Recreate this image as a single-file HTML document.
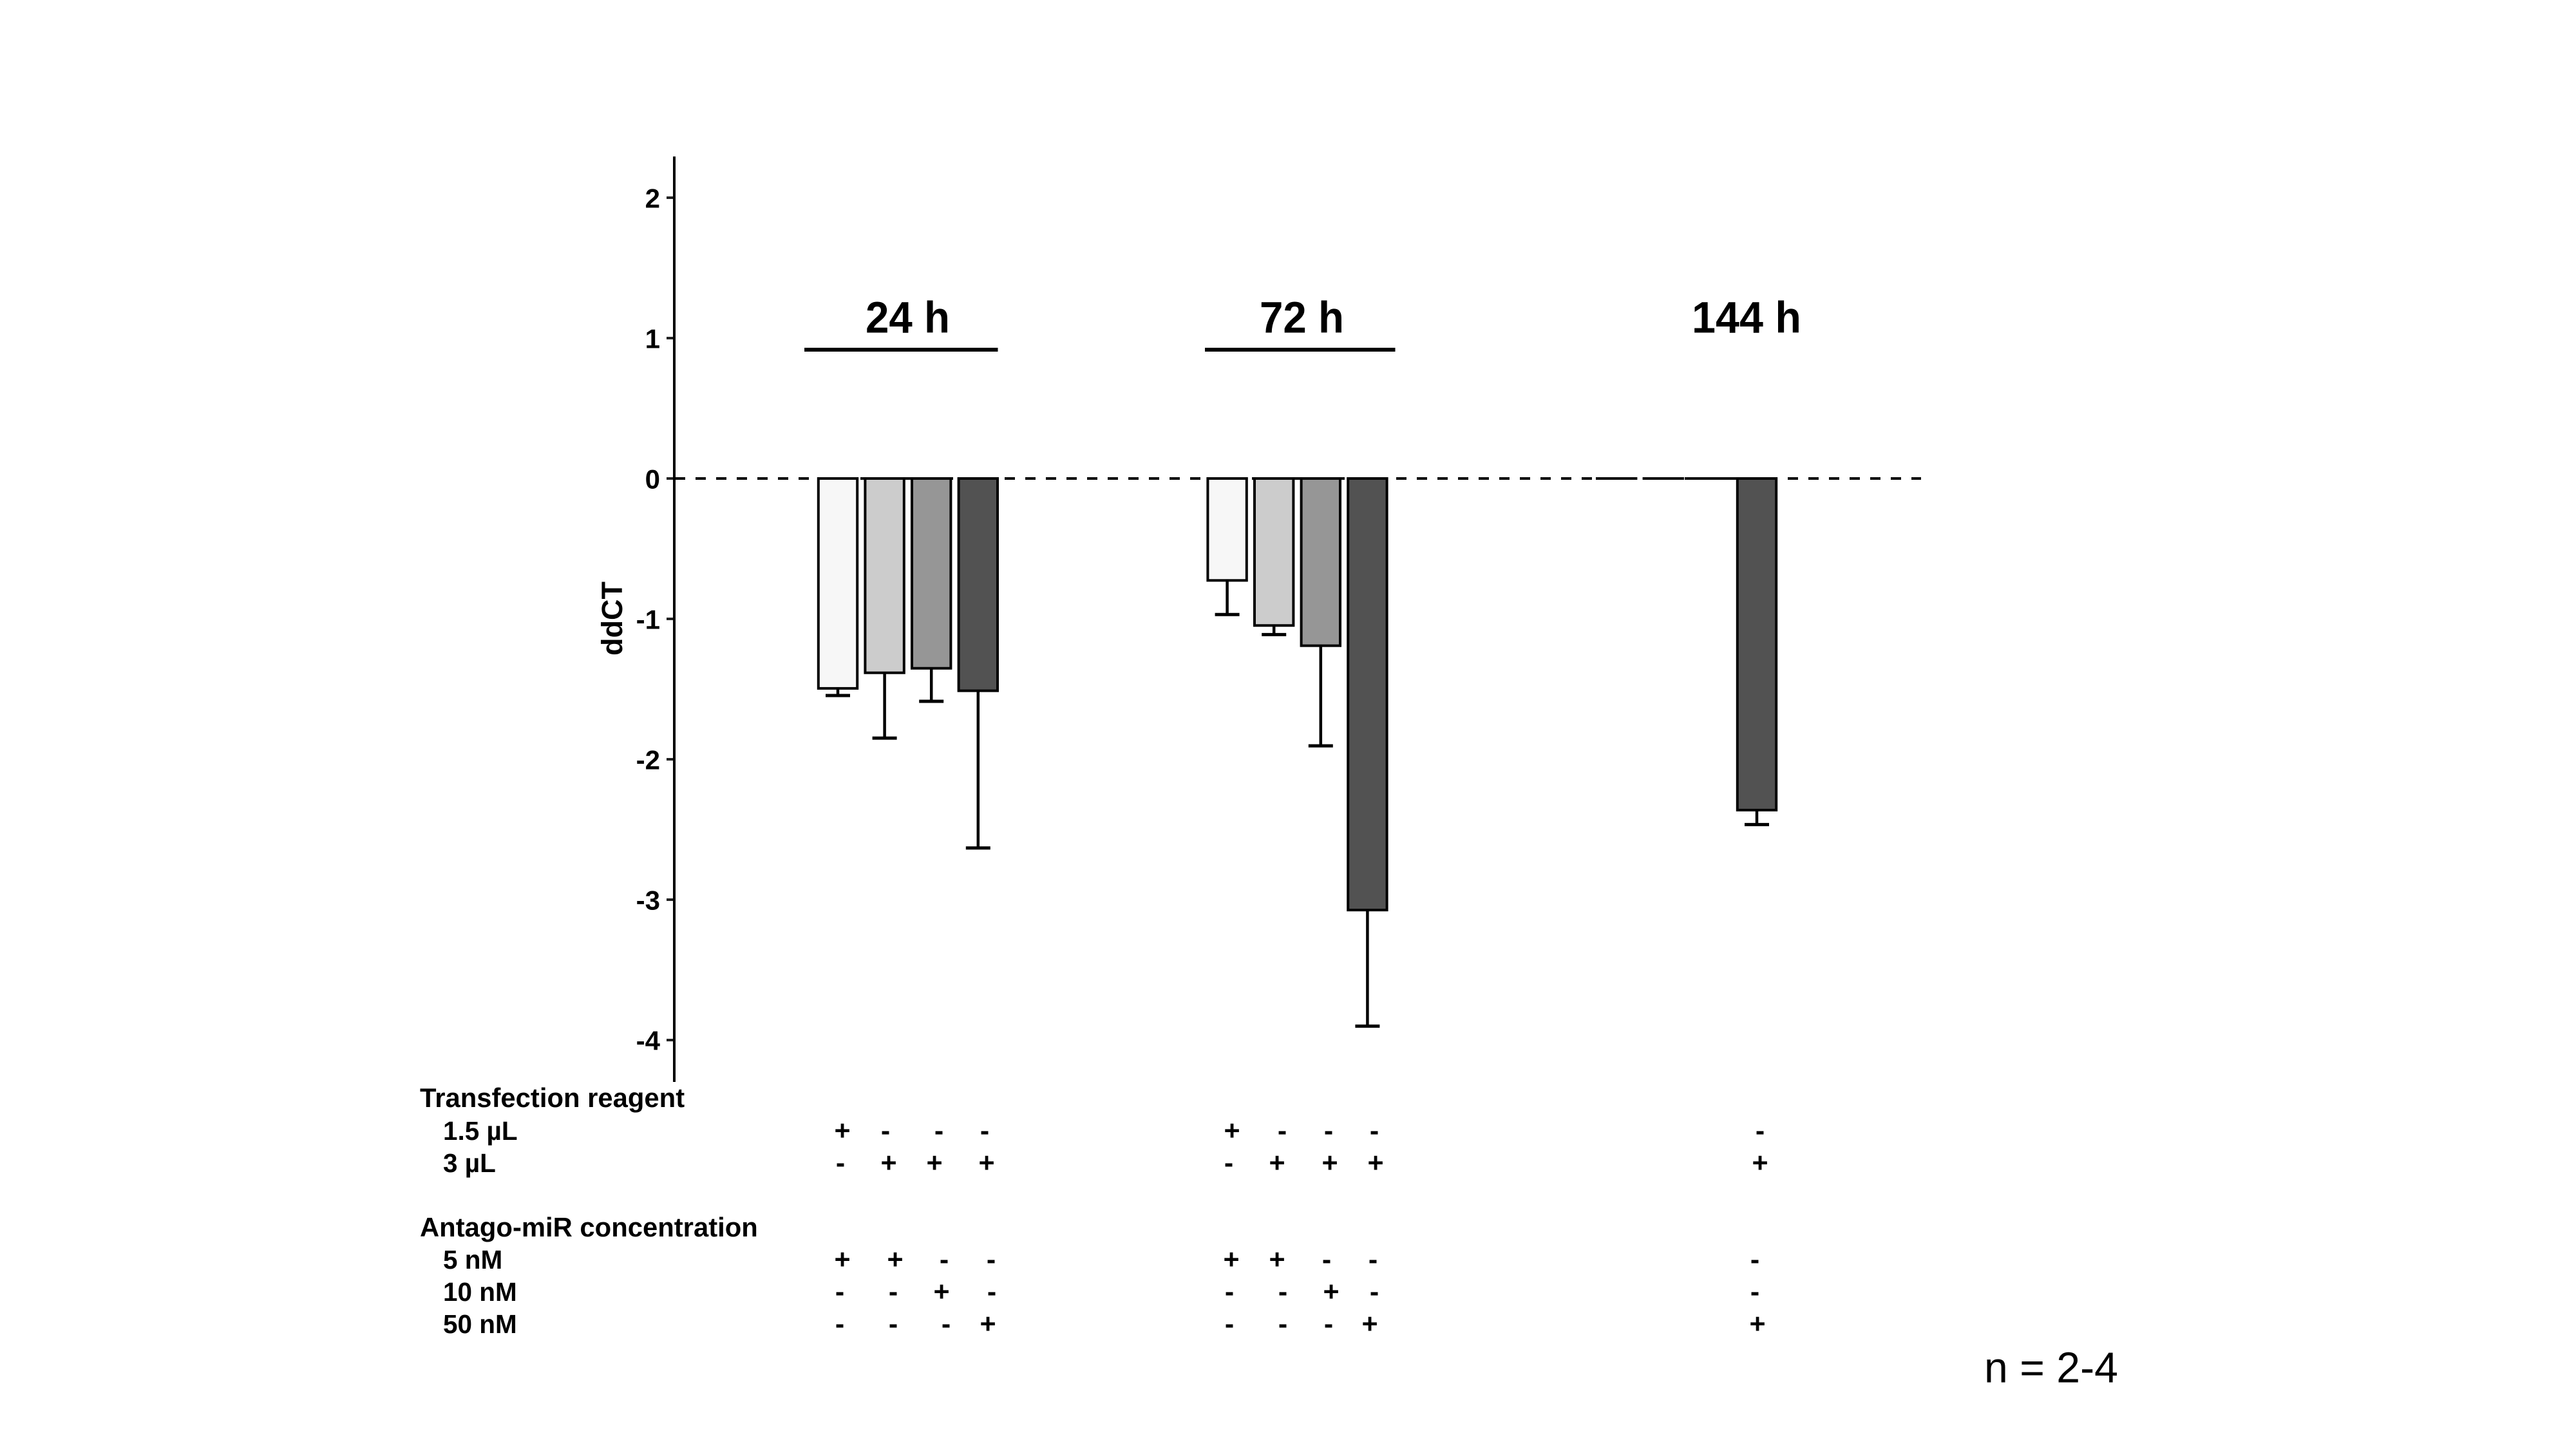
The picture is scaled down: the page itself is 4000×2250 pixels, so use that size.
<!DOCTYPE html>
<html lang="en">
<head>
<meta charset="utf-8">
<title>ddCT bar chart</title>
<style>
html,body{margin:0;padding:0;background:#fff;}
svg{display:block;}
text{font-family:"Liberation Sans",sans-serif;fill:#000;}
.b{font-weight:bold;}
.row{font-weight:bold;font-size:40.5px;}
.head{font-weight:bold;font-size:41.8px;}
.m{font-weight:bold;font-size:43px;text-anchor:middle;}
</style>
</head>
<body>
<svg id="chart" xmlns="http://www.w3.org/2000/svg" width="4000" height="2250" viewBox="0 0 4000 2250">
  <rect x="0" y="0" width="4000" height="2250" fill="#ffffff"/>
  <line id="zero" x1="1048" x2="2983" y1="743" y2="743" stroke="#000" stroke-width="4" stroke-dasharray="16 16"/>
  <g id="ticks"></g>
  <line x1="1047" x2="1047" y1="243" y2="1680" stroke="#000" stroke-width="4"/>
  <text class="b" font-size="45" text-anchor="middle" transform="translate(966 960.5) rotate(-90)">ddCT</text>
  <g id="bars"></g>

  <text class="b" font-size="69" x="1344" y="516.5" textLength="131" lengthAdjust="spacingAndGlyphs">24 h</text>
  <text class="b" font-size="69" x="1956" y="516.5" textLength="131" lengthAdjust="spacingAndGlyphs">72 h</text>
  <text class="b" font-size="69" x="2627" y="516.5" textLength="170" lengthAdjust="spacingAndGlyphs">144 h</text>
  <rect x="1249" y="540" width="300.5" height="6" fill="#000"/>
  <rect x="1871" y="540" width="295.5" height="6" fill="#000"/>

  <g>
    <text class="head" x="652" y="1719">Transfection reagent</text>
    <text class="row" x="688" y="1770">1.5 µL</text>
    <text class="row" x="688" y="1820">3 µL</text>
    <text class="head" x="652" y="1920">Antago-miR concentration</text>
    <text class="row" x="688" y="1970">5 nM</text>
    <text class="row" x="688" y="2020">10 nM</text>
    <text class="row" x="688" y="2070">50 nM</text>
  </g>

  <g>
    <text class="m" x="1308" y="1770">+</text>
    <text class="m" x="1375" y="1770">-</text>
    <text class="m" x="1458" y="1770">-</text>
    <text class="m" x="1529" y="1770">-</text>
    <text class="m" x="1913" y="1770">+</text>
    <text class="m" x="1991" y="1770">-</text>
    <text class="m" x="2063" y="1770">-</text>
    <text class="m" x="2134" y="1770">-</text>
    <text class="m" x="2733" y="1770">-</text>
  </g>
  <g>
    <text class="m" x="1305" y="1820">-</text>
    <text class="m" x="1380" y="1820">+</text>
    <text class="m" x="1451" y="1820">+</text>
    <text class="m" x="1532" y="1820">+</text>
    <text class="m" x="1908" y="1820">-</text>
    <text class="m" x="1983" y="1820">+</text>
    <text class="m" x="2065" y="1820">+</text>
    <text class="m" x="2136" y="1820">+</text>
    <text class="m" x="2733" y="1820">+</text>
  </g>
  <g>
    <text class="m" x="1308" y="1970">+</text>
    <text class="m" x="1390" y="1970">+</text>
    <text class="m" x="1466" y="1970">-</text>
    <text class="m" x="1539" y="1970">-</text>
    <text class="m" x="1912" y="1970">+</text>
    <text class="m" x="1983" y="1970">+</text>
    <text class="m" x="2060" y="1970">-</text>
    <text class="m" x="2132" y="1970">-</text>
    <text class="m" x="2725" y="1970">-</text>
  </g>
  <g>
    <text class="m" x="1304" y="2020">-</text>
    <text class="m" x="1387" y="2020">-</text>
    <text class="m" x="1462" y="2020">+</text>
    <text class="m" x="1540" y="2020">-</text>
    <text class="m" x="1909" y="2020">-</text>
    <text class="m" x="1992" y="2020">-</text>
    <text class="m" x="2067" y="2020">+</text>
    <text class="m" x="2134" y="2020">-</text>
    <text class="m" x="2725" y="2020">-</text>
  </g>
  <g>
    <text class="m" x="1304" y="2070">-</text>
    <text class="m" x="1387" y="2070">-</text>
    <text class="m" x="1469" y="2070">-</text>
    <text class="m" x="1534" y="2070">+</text>
    <text class="m" x="1909" y="2070">-</text>
    <text class="m" x="1992" y="2070">-</text>
    <text class="m" x="2063" y="2070">-</text>
    <text class="m" x="2127" y="2070">+</text>
    <text class="m" x="2729" y="2070">+</text>
  </g>

  <text font-size="67" x="3081" y="2146.7" textLength="208" lengthAdjust="spacingAndGlyphs">n = 2-4</text>
</svg>
<script>
const tickValues = [2, 1, 0, -1, -2, -3, -4];
const tickLabels = ['2', '1', '0', '-1', '-2', '-3', '-4'];
const timepoints = ['24h', '72h', '144h'];
const conditionNames = ['reagent-1-5-5nm', 'reagent-3-5nm', 'reagent-3-10nm', 'reagent-3-50nm'];
const barFills = ['#f7f7f7', '#cccccc', '#969696', '#525252'];
const means24h = [-1.495, -1.384, -1.352, -1.512];
const errorEnds24h = [-1.546, -1.849, -1.587, -2.632];
const means72h = [-0.726, -1.047, -1.191, -3.074];
const errorEnds72h = [-0.969, -1.112, -1.904, -3.901];
const means144h = [0, 0, 0, -2.362];
const errorEnds144h = [null, null, null, -2.465];

const SVG_NS = 'http://www.w3.org/2000/svg';
function yScale(v) { return 743 - 218 * v; }
function xScale(g, i) { return 1301 + 604.6 * g + 72.6 * i; }
function make(tag, parent) {
  const el = document.createElementNS(SVG_NS, tag);
  parent.appendChild(el);
  return el;
}

const ticksGroup = document.getElementById('ticks');
tickValues.forEach(function (v, k) {
  const tick = make('rect', ticksGroup);
  
  
  tick.setAttribute('x', 1035);
  tick.setAttribute('y', yScale(v) - 2);
  tick.setAttribute('width', 12);
  tick.setAttribute('height', 4);
  tick.setAttribute('fill', '#222');
  const label = make('text', ticksGroup);
  
  
  label.setAttribute('class', 'b');
  label.setAttribute('font-size', '42');
  label.setAttribute('text-anchor', 'end');
  label.setAttribute('x', 1025);
  label.setAttribute('y', yScale(v) + 15.6);
  label.textContent = tickLabels[k];
});

const barsGroup = document.getElementById('bars');
const meansByGroup = [means24h, means72h, means144h];
const errorsByGroup = [errorEnds24h, errorEnds72h, errorEnds144h];
meansByGroup.forEach(function (means, g) {
  means.forEach(function (value, i) {
    const cx = xScale(g, i);
    const end = errorsByGroup[g][i];
    if (end !== null) {
      const stem = make('line', barsGroup);
      
      
      stem.setAttribute('x1', cx);
      stem.setAttribute('x2', cx);
      stem.setAttribute('y1', yScale(value));
      stem.setAttribute('y2', yScale(end));
      stem.setAttribute('stroke', '#000');
      stem.setAttribute('stroke-width', '4.5');
      const cap = make('line', barsGroup);
      
      
      cap.setAttribute('x1', cx - 19);
      cap.setAttribute('x2', cx + 19);
      cap.setAttribute('y1', yScale(end));
      cap.setAttribute('y2', yScale(end));
      cap.setAttribute('stroke', '#000');
      cap.setAttribute('stroke-width', '5');
    }
    const bar = make('rect', barsGroup);
    
    
    bar.setAttribute('x', cx - 30.2);
    bar.setAttribute('y', yScale(0));
    bar.setAttribute('width', 60.4);
    bar.setAttribute('height', Math.max(yScale(value) - yScale(0), 0.01));
    bar.setAttribute('fill', barFills[i]);
    bar.setAttribute('stroke', '#000');
    bar.setAttribute('stroke-width', '4');
  });
});
</script>
</body>
</html>
